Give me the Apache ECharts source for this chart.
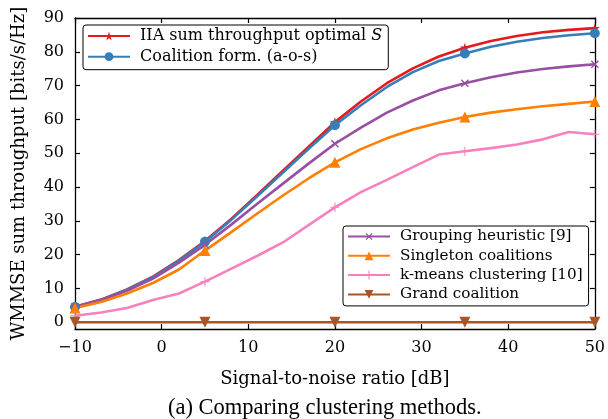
<!DOCTYPE html>
<html>
<head>
<meta charset="utf-8">
<script src="https://cdn.jsdelivr.net/npm/echarts@6/dist/echarts.min.js"></script>
<style>html,body{margin:0;padding:0;background:#fff}#c{width:608px;height:419px}</style>
</head>
<body>
<div id="c"></div>
<script>
const snr = [-10,-7,-4,-1,2,5,8,11,14,17,20,23,26,29,32,35,38,41,44,47,50];
const iiaOptimal = [4.6,6.7,9.7,13.5,18.4,24.0,30.5,37.6,44.8,52.0,59.2,65.3,70.7,75.1,78.6,81.2,83.2,84.7,85.8,86.5,87.0];
const coalitionForm = [4.5,6.6,9.6,13.3,18.2,23.8,30.2,37.2,44.3,51.4,58.3,64.2,69.6,74.0,77.3,79.5,81.5,83.0,84.1,84.9,85.5];
const groupingHeuristic = [4.6,6.5,9.3,12.9,17.6,22.9,28.8,35.0,41.0,47.0,52.8,57.6,62.0,65.6,68.6,70.7,72.5,73.9,74.9,75.7,76.3];
const singleton = [4.2,6.0,8.5,11.6,15.6,21.2,26.6,32.1,37.5,42.6,47.3,51.2,54.4,57.0,59.0,60.7,62.0,63.0,63.9,64.6,65.3];
const kmeans = [1.9,2.9,4.2,6.6,8.5,12.0,15.8,19.6,23.6,28.8,34.0,38.5,42.1,45.9,49.6,50.6,51.5,52.6,54.1,56.3,55.6];
const grand = [0,0,0,0,0,0,0,0,0,0,0,0,0,0,0,0,0,0,0,0,0];
const xTicks = [-10,0,10,20,30,40,50];
const yTicks = [0,10,20,30,40,50,60,70,80,90];

const FONT = 'DejaVu Serif';
const starPath = 'path://M50,0 L61,35 L98,35 L68,57 L79,91 L50,70 L21,91 L32,57 L2,35 L39,35 Z';
const plusPath = 'path://M0,44 L100,44 L100,56 L0,56 Z M44,0 L56,0 L56,100 L44,100 Z';
const crossPath = 'path://M0,43 L100,43 L100,57 L0,57 Z M43,0 L57,0 L57,100 L43,100 Z';

function pairs(ys){ return snr.map((x,i)=>[x, ys[i]]); }
function mk(size){ return function(v, p){ return p.dataIndex % 5 === 0 ? size : 0; }; }

function series(name, ys, color, symbol, size, rot){
  return {
    name: name, type: 'line', data: pairs(ys),
    symbol: symbol, symbolSize: mk(size), symbolRotate: rot || 0,
    showAllSymbol: true,
    lineStyle: {color: color, width: 2.6},
    itemStyle: {color: color},
    emphasis: {disabled: true},
    animation: false,
    z: 2
  };
}

const chart = echarts.init(document.getElementById('c'), null, {renderer: 'canvas'});
const minus = v => String(v).replace('-', '\u2212');
const axisCommon = {
  axisLine: {show: true, onZero: false, lineStyle: {color: '#000', width: 1.3}},
  axisTick: {show: true, inside: true, length: 5, lineStyle: {color: '#000', width: 1.2}},
  splitLine: {show: false}
};
function legendText(sz){
  return {fontFamily: FONT, fontSize: sz, color: '#000', lineHeight: 15, padding: [0,0,0,5],
    rich: {a: {fontFamily: FONT, fontSize: sz, color: '#000'}, s: {fontFamily: FONT, fontSize: sz, fontStyle: 'italic', color: '#000'}}};
}

chart.setOption({
  backgroundColor: '#fff',
  animation: false,
  title: {
    text: '(a) Comparing clustering methods.',
    left: 163, top: 392,
    textStyle: {fontFamily: 'Liberation Serif', fontSize: 22.5, fontWeight: 'normal', color: '#000'}
  },
  grid: {left: 75, right: 10, top: 18, bottom: 90, containLabel: false},
  legend: [
    {
      data: ['IIA sum throughput optimal S', 'Coalition form. (a-o-s)'],
      orient: 'vertical', left: 83, top: 25,
      itemWidth: 42, itemHeight: 11, itemGap: 4.7,
      padding: [3, 6, 5, 4],
      backgroundColor: '#fff', borderColor: '#000', borderWidth: 1, borderRadius: 3,
      textStyle: legendText(16),
      formatter: function(n){ return n === 'IIA sum throughput optimal S' ? '{a|IIA sum throughput optimal }{s|S}' : n; },
      selectedMode: false
    },
    {
      data: ['Grouping heuristic [9]', 'Singleton coalitions', 'k-means clustering [10]', 'Grand coalition'],
      orient: 'vertical', left: 343, top: 226,
      itemWidth: 42, itemHeight: 11, itemGap: 4.3,
      padding: [3, 6, 4, 4],
      backgroundColor: '#fff', borderColor: '#000', borderWidth: 1, borderRadius: 3,
      textStyle: legendText(15.2),
      selectedMode: false
    }
  ],
  xAxis: [
    Object.assign({}, axisCommon, {
      type: 'value', position: 'bottom', min: -10, max: 50, interval: 10,
      name: 'Signal-to-noise ratio [dB]', nameLocation: 'middle', nameGap: 41,
      nameTextStyle: {fontFamily: FONT, fontSize: 18, color: '#000'},
      axisLabel: {fontFamily: FONT, fontSize: 16, color: '#000', margin: 11, formatter: minus}
    }),
    Object.assign({}, axisCommon, {
      type: 'value', position: 'top', min: -10, max: 50, interval: 10,
      axisLabel: {show: false}
    })
  ],
  yAxis: [
    Object.assign({}, axisCommon, {
      type: 'value', position: 'left', min: -2, max: 90,
      name: 'WMMSE sum throughput [bits/s/Hz]', nameLocation: 'middle', nameGap: 47,
      nameTextStyle: {fontFamily: FONT, fontSize: 18, color: '#000'},
      axisTick: Object.assign({}, axisCommon.axisTick, {customValues: yTicks}),
      axisLabel: {fontFamily: FONT, fontSize: 16, color: '#000', margin: 11, customValues: yTicks}
    }),
    Object.assign({}, axisCommon, {
      type: 'value', position: 'right', min: -2, max: 90,
      axisTick: Object.assign({}, axisCommon.axisTick, {customValues: yTicks}),
      axisLabel: {show: false, customValues: yTicks}
    })
  ],
  series: [
    series('IIA sum throughput optimal S', iiaOptimal, '#e41a1c', starPath, 10),
    series('Coalition form. (a-o-s)', coalitionForm, '#377eb8', 'circle', 10),
    series('Grouping heuristic [9]', groupingHeuristic, '#984ea3', crossPath, 10, 45),
    series('Singleton coalitions', singleton, '#ff7f00', 'triangle', 11),
    series('k-means clustering [10]', kmeans, '#f781bf', plusPath, 9),
    series('Grand coalition', grand, '#a65628', 'triangle', 11, 180)
  ]
});
</script>
</body>
</html>
